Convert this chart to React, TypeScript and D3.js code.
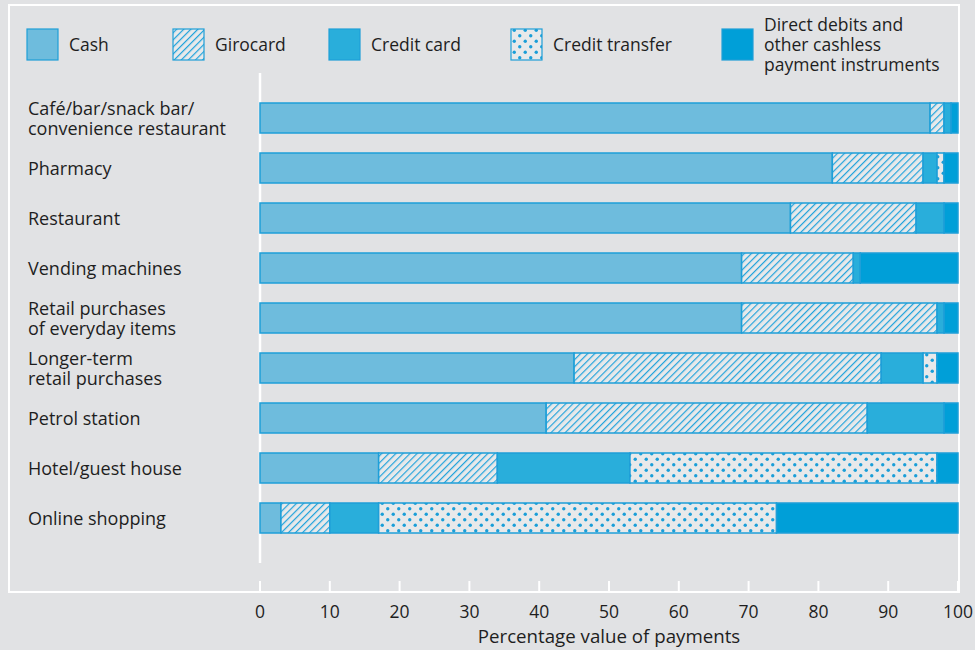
import React from "react";
import * as d3 from "d3";

const categories = [
  "Café/bar/snack bar/|convenience restaurant",
  "Pharmacy",
  "Restaurant",
  "Vending machines",
  "Retail purchases|of everyday items",
  "Longer-term|retail purchases",
  "Petrol station",
  "Hotel/guest house",
  "Online shopping",
];
const seriesKeys = ["cash", "girocard", "credit", "transfer", "direct"];
const seriesLabels = ["Cash", "Girocard", "Credit card", "Credit transfer", "Direct debits and|other cashless|payment instruments"];
const cash = [96, 82, 76, 69, 69, 45, 41, 17, 3];
const girocard = [2, 13, 18, 16, 28, 44, 46, 17, 7];
const creditCard = [1, 2, 4, 1, 1, 6, 11, 19, 7];
const creditTransfer = [0, 1, 0, 0, 0, 2, 0, 44, 57];
const directDebits = [1, 2, 2, 14, 2, 3, 2, 3, 26];
const xTicks = [0, 10, 20, 30, 40, 50, 60, 70, 80, 90, 100];
const xTitle = "Percentage value of payments";

const BG = "#e1e2e4";
const STROKE = "#1e9fd8";
const fills = ["#6ebcdd", "url(#hatch)", "#29aedb", "url(#dots)", "#009fd8"];
const FONT = "'Open Sans', 'Noto Sans', sans-serif";
const TXT = "#1e1e1e";
const FS = 17.5;

export default function App() {
  const rows = categories.map((c, i) => ({
    cat: c,
    cash: cash[i],
    girocard: girocard[i],
    credit: creditCard[i],
    transfer: creditTransfer[i],
    direct: directDebits[i],
  }));
  const x = d3.scaleLinear().domain([0, 100]).range([260, 958]);
  const y = d3.scaleBand<string>().domain(categories).range([93, 543]).paddingInner(0.4).paddingOuter(0.2);
  const stacked = d3.stack<any>().keys(seriesKeys)(rows);

  const legendX = [27, 173, 329, 511, 722];

  return (
    <svg width={975} height={650} style={{ position: "absolute", left: 0, top: 0 }} fontFamily={FONT}>
      <defs>
        <pattern id="hatch" width={5} height={5} patternUnits="userSpaceOnUse" patternTransform="rotate(45)">
          <rect width={5} height={5} fill="#e8e9ea" />
          <line x1={0.6} y1={0} x2={0.6} y2={5} stroke="#22a3dc" strokeWidth={1.2} />
        </pattern>
        <pattern id="dots" width={11} height={11} patternUnits="userSpaceOnUse">
          <rect width={11} height={11} fill="#e8e9ea" />
          <circle cx={2.75} cy={2.75} r={1.7} fill="#1a9ed8" />
          <circle cx={8.25} cy={8.25} r={1.7} fill="#1a9ed8" />
        </pattern>
      </defs>
      <rect width={975} height={650} fill={BG} />
      <rect x={9} y={5} width={950} height={587} fill="none" stroke="#ffffff" strokeWidth={2} />

      {/* legend */}
      {seriesLabels.map((lab, i) => {
        const lines = lab.split("|");
        const tx = legendX[i] + 42;
        return (
          <g key={i}>
            <rect x={legendX[i]} y={29} width={31} height={31} fill={fills[i]} stroke={STROKE} strokeWidth={1.2} />
            <text x={tx} y={51 - ((lines.length - 1) / 2) * 20} fontSize={FS} fill={TXT}>
              {lines.map((ln, j) => (
                <tspan key={j} x={tx} dy={j === 0 ? 0 : 20}>
                  {ln}
                </tspan>
              ))}
            </text>
          </g>
        );
      })}

      {/* zero line */}
      <line x1={x(0)} x2={x(0)} y1={73} y2={563} stroke="#ffffff" strokeWidth={2.5} />

      {/* bars */}
      {stacked.map((s, si) => (
        <g key={s.key}>
          {s.map((d, di) =>
            d[1] - d[0] > 0 ? (
              <rect
                key={di}
                x={x(d[0])}
                y={y(categories[di])!}
                width={x(d[1]) - x(d[0])}
                height={y.bandwidth()}
                fill={fills[si]}
                stroke={STROKE}
                strokeWidth={1.5}
              />
            ) : null
          )}
        </g>
      ))}

      {/* category labels */}
      {categories.map((c) => {
        const lines = c.split("|");
        const cy = y(c)! + y.bandwidth() / 2;
        return (
          <text key={c} x={28} y={cy + 7 - ((lines.length - 1) / 2) * 20} fontSize={18} fill={TXT}>
            {lines.map((ln, j) => (
              <tspan key={j} x={28} dy={j === 0 ? 0 : 20}>
                {ln}
              </tspan>
            ))}
          </text>
        );
      })}

      {/* x axis */}
      {xTicks.map((t) => (
        <g key={t}>
          <line x1={x(t)} x2={x(t)} y1={581} y2={592} stroke="#ffffff" strokeWidth={2} />
          <text x={x(t)} y={618} fontSize={FS} fill={TXT} textAnchor="middle">
            {t}
          </text>
        </g>
      ))}
      <text x={(x(0) + x(100)) / 2} y={643} fontSize={18.7} fill={TXT} textAnchor="middle">
        {xTitle}
      </text>
    </svg>
  );
}
